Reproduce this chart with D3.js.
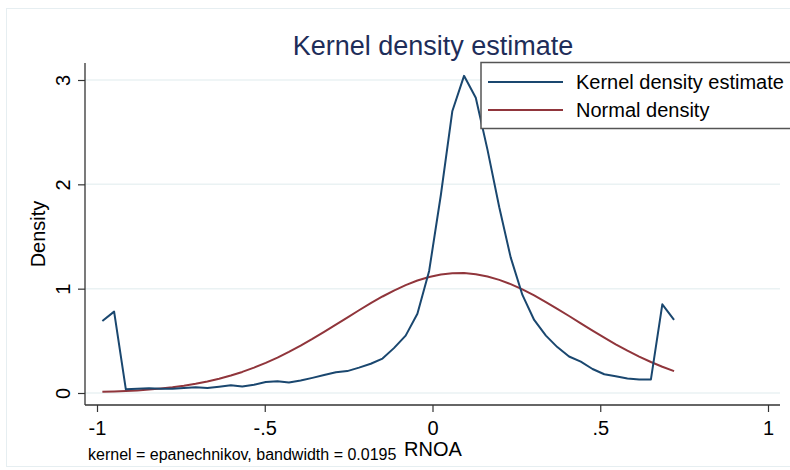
<!DOCTYPE html>
<html>
<head>
<meta charset="utf-8">
<script src="https://cdn.jsdelivr.net/npm/d3@7"></script>
<style>
  html, body { margin: 0; padding: 0; background: #fff; }
  svg { display: block; font-family: "Liberation Sans", Arial, sans-serif; }
</style>
</head>
<body>
<svg id="chart" width="790" height="470"></svg>
<script>
// ---- data ----
const gridX = [-0.984, -0.949, -0.914, -0.880, -0.845, -0.810, -0.775, -0.741, -0.706, -0.671,
               -0.636, -0.601, -0.567, -0.532, -0.497, -0.462, -0.428, -0.393, -0.358, -0.323,
               -0.288, -0.254, -0.219, -0.184, -0.149, -0.115, -0.080, -0.045, -0.010, 0.025,
                0.059,  0.094,  0.129,  0.164,  0.199,  0.233,  0.268,  0.303,  0.338,  0.372,
                0.407,  0.442,  0.477,  0.512,  0.546,  0.581,  0.616,  0.651,  0.685,  0.720];
const kdensity = [0.69, 0.78, 0.035, 0.040, 0.045, 0.040, 0.040, 0.048, 0.055, 0.048,
                  0.060, 0.074, 0.062, 0.080, 0.105, 0.112, 0.100, 0.120, 0.145, 0.172,
                  0.198, 0.210, 0.243, 0.280, 0.330, 0.430, 0.550, 0.760, 1.170, 1.900,
                  2.700, 3.040, 2.830, 2.330, 1.780, 1.300, 0.940, 0.700, 0.550, 0.440,
                  0.350, 0.300, 0.230, 0.180, 0.160, 0.140, 0.130, 0.130, 0.850, 0.700];
const normalDensity = [0.011, 0.014, 0.019, 0.025, 0.033, 0.043, 0.055, 0.070, 0.088, 0.111,
                       0.137, 0.168, 0.202, 0.243, 0.289, 0.339, 0.394, 0.454, 0.518, 0.586,
                       0.655, 0.723, 0.793, 0.861, 0.925, 0.982, 1.034, 1.078, 1.112, 1.136,
                       1.148, 1.149, 1.139, 1.117, 1.084, 1.044, 0.993, 0.935, 0.872, 0.807,
                       0.738, 0.667, 0.598, 0.530, 0.467, 0.406, 0.349, 0.297, 0.252, 0.210];
const xTicks = [-1, -0.5, 0, 0.5, 1];
const xTickLabels = ["-1", "-.5", "0", ".5", "1"];
const yTicks = [0, 1, 2, 3];
const yTickLabels = ["0", "1", "2", "3"];
const seriesNames = ["Kernel density estimate", "Normal density"];
const titleText = "Kernel density estimate";
const xTitle = "RNOA";
const yTitle = "Density";
const noteText = "kernel = epanechnikov, bandwidth = 0.0195";

// ---- layout ----
const svg = d3.select("#chart");
const plot = { left: 85, right: 780, top: 63, bottom: 405 };
const x = d3.scaleLinear().domain([-1, 1]).range([97, 768]);
const y = d3.scaleLinear().domain([0, 3]).range([393, 80]);
const blue = "#1a476f", red = "#90353b";

// outer light frame
svg.append("rect").attr("x", 6.5).attr("y", 8.5).attr("width", 800).attr("height", 458)
  .attr("fill", "#fff").attr("stroke", "#e6eef1").attr("stroke-width", 1);

// gridlines
svg.append("g").selectAll("line").data(yTicks).join("line")
  .attr("x1", plot.left).attr("x2", plot.right)
  .attr("y1", d => y(d)).attr("y2", d => y(d))
  .attr("stroke", "#eaf2f3").attr("stroke-width", 1.5);

// lines
const line = d3.line().x((d, i) => x(gridX[i])).y(d => y(d));
svg.append("path").datum(normalDensity).attr("d", line)
  .attr("fill", "none").attr("stroke", red).attr("stroke-width", 2).attr("stroke-linejoin", "round");
svg.append("path").datum(kdensity).attr("d", line)
  .attr("fill", "none").attr("stroke", blue).attr("stroke-width", 2).attr("stroke-linejoin", "round");

// x axis
const xAxis = d3.axisBottom(x).tickValues(xTicks)
  .tickFormat((d, i) => xTickLabels[i]).tickSize(7).tickPadding(9);
const gx = svg.append("g").attr("transform", `translate(0,${plot.bottom})`).call(xAxis);
gx.select(".domain").remove();
gx.selectAll(".tick line").attr("stroke", "#333").attr("stroke-width", 1.2);
gx.selectAll("text").attr("font-size", 20).attr("fill", "#000")
  .attr("font-family", "'Liberation Sans', Arial, sans-serif");
svg.append("line").attr("x1", plot.left).attr("x2", plot.right)
  .attr("y1", plot.bottom).attr("y2", plot.bottom).attr("stroke", "#333").attr("stroke-width", 1.3);

// y axis
const yAxis = d3.axisLeft(y).tickValues(yTicks)
  .tickFormat((d, i) => yTickLabels[i]).tickSize(7);
const gy = svg.append("g").attr("transform", `translate(${plot.left},0)`).call(yAxis);
gy.select(".domain").remove();
gy.selectAll(".tick line").attr("stroke", "#333").attr("stroke-width", 1.2);
gy.selectAll("text").attr("font-size", 20).attr("fill", "#000")
  .attr("font-family", "'Liberation Sans', Arial, sans-serif")
  .attr("transform", "rotate(-90)").attr("x", 0).attr("y", -22)
  .attr("dy", "0.36em").attr("text-anchor", "middle");
svg.append("line").attr("x1", plot.left).attr("x2", plot.left)
  .attr("y1", plot.top).attr("y2", plot.bottom).attr("stroke", "#333").attr("stroke-width", 1.3);

// titles
svg.append("text").attr("x", 433).attr("y", 55).attr("text-anchor", "middle")
  .attr("font-size", 27).attr("fill", "#1e2d59").text(titleText);
svg.append("text").attr("x", 433).attr("y", 456).attr("text-anchor", "middle")
  .attr("font-size", 20).attr("fill", "#000").text(xTitle);
svg.append("text").attr("transform", `translate(45,${(plot.top + plot.bottom) / 2}) rotate(-90)`)
  .attr("text-anchor", "middle").attr("font-size", 20).attr("fill", "#000").text(yTitle);
svg.append("text").attr("x", 88).attr("y", 460)
  .attr("font-size", 16).attr("fill", "#000").text(noteText);

// legend
const lg = svg.append("g");
lg.append("rect").attr("x", 481).attr("y", 62.5).attr("width", 330).attr("height", 66)
  .attr("fill", "#fff").attr("stroke", "#555").attr("stroke-width", 1.5);
const legendColors = [blue, red];
seriesNames.forEach((name, i) => {
  const ly = 82 + i * 28;
  lg.append("line").attr("x1", 488).attr("x2", 563).attr("y1", ly).attr("y2", ly)
    .attr("stroke", legendColors[i]).attr("stroke-width", 2);
  lg.append("text").attr("x", 576).attr("y", ly + 7).attr("font-size", 20)
    .attr("fill", "#000").text(name);
});
</script>
</body>
</html>
